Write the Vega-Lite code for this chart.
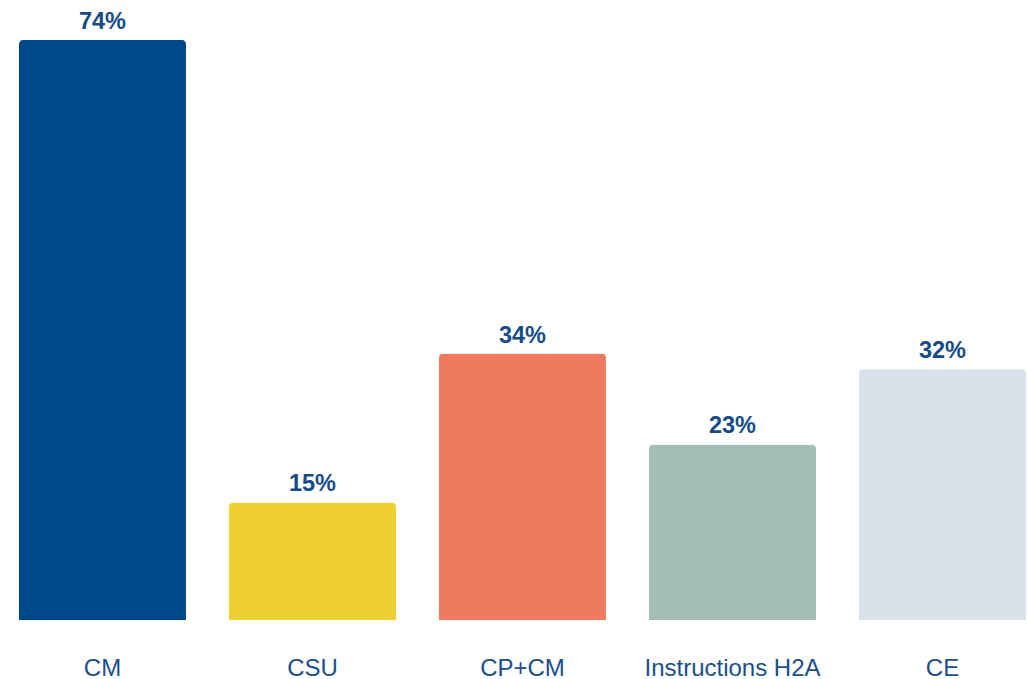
{
  "$schema": "https://vega.github.io/schema/vega-lite/v6.json",
  "autosize": {"type": "none"},
  "width": 1045,
  "height": 580,
  "padding": {"left": 0, "top": 40, "right": 0, "bottom": 59},
  "background": "white",
  "config": {"view": {"stroke": null}, "font": "Liberation Sans"},
  "data": {
    "values": [
      {"category": "CM", "value": 0.74, "label": "74%", "color": "#00488A"},
      {"category": "CSU", "value": 0.15, "label": "15%", "color": "#EFD032"},
      {"category": "CP+CM", "value": 0.34, "label": "34%", "color": "#EF7A5F"},
      {"category": "Instructions H2A", "value": 0.224, "label": "23%", "color": "#A4BEB4"},
      {"category": "CE", "value": 0.32, "label": "32%", "color": "#D9E1EB"}
    ]
  },
  "encoding": {
    "x": {
      "field": "category",
      "type": "nominal",
      "sort": null,
      "scale": {"paddingInner": 0.2048, "paddingOuter": 0.0905},
      "axis": {
        "title": null,
        "domain": false,
        "ticks": false,
        "labelAngle": 0,
        "labelFontSize": 24,
        "labelColor": "#1B4F8C",
        "labelBaseline": "alphabetic",
        "labelPadding": 55,
        "labelFont": "Liberation Sans"
      }
    },
    "y": {
      "field": "value",
      "type": "quantitative",
      "scale": {"domain": [0, 0.74], "nice": false},
      "axis": null
    }
  },
  "layer": [
    {
      "mark": {"type": "bar", "cornerRadiusTopLeft": 4, "cornerRadiusTopRight": 4},
      "encoding": {
        "color": {"field": "color", "type": "nominal", "scale": null, "legend": null}
      }
    },
    {
      "mark": {"type": "text", "baseline": "alphabetic", "dy": -11, "fontSize": 23.5, "fontWeight": "bold", "color": "#174B87", "font": "Liberation Sans"},
      "encoding": {
        "text": {"field": "label", "type": "nominal"}
      }
    }
  ]
}
